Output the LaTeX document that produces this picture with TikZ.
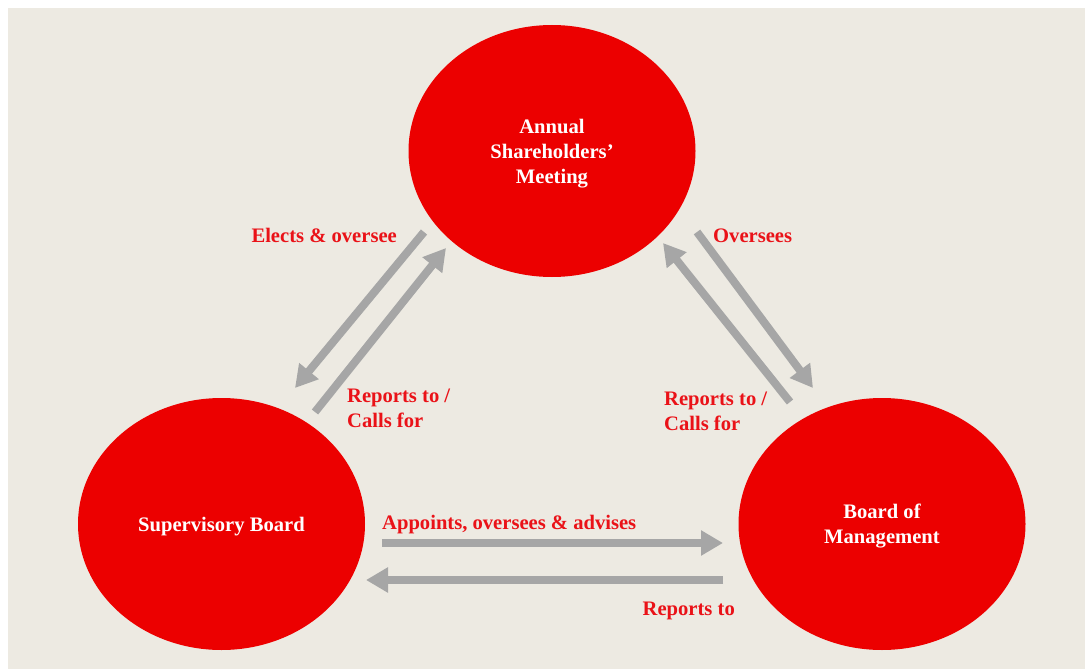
\documentclass[tikz,border=0pt]{standalone}
\usepackage{fontspec}
\setmainfont{Liberation Serif}
\usetikzlibrary{shapes.geometric,arrows.meta}
\definecolor{paper}{RGB}{237,234,226}
\definecolor{bodyred}{RGB}{236,0,0}
\definecolor{labelred}{RGB}{234,18,24}
\definecolor{flowgray}{RGB}{166,166,166}
\tikzset{
  body/.style={ellipse, fill=bodyred, draw=none, minimum width=287pt, minimum height=252pt,
    inner sep=0pt, text=white, align=center, text depth=0pt,
    font=\fontsize{20.6}{25}\selectfont\bfseries},
  lbl/.style={text=labelred, inner sep=0pt, align=left, font=\fontsize{20.6}{25}\selectfont\bfseries},
  flow/.style={draw=flowgray, line width=8pt, -{Triangle[length=22pt,width=24pt]}}
}
\begin{document}
\begin{tikzpicture}[x=1pt,y=-1pt]
  % page and paper
  \fill[white] (0,0) rectangle (1085,669);
  \fill[paper] (8,8) rectangle (1085,669);
  \useasboundingbox (0,0) rectangle (1085,669);

  % the three bodies
  \node[body] (asm) at (552,151) {Annual\\Shareholders’\\Meeting};
  \node[body] (sb) at (221.5,524) {Supervisory Board};
  \node[body] (bm) at (882,524) {Board of\\Management};

  % arrow end points
  \coordinate (eoS) at (424,232);  \coordinate (eoE) at (295,388);
  \coordinate (rlS) at (315,412);  \coordinate (rlE) at (446,248);
  \coordinate (ovS) at (697,232);  \coordinate (ovE) at (813,388);
  \coordinate (rrS) at (790,402);  \coordinate (rrE) at (663,243);
  \coordinate (apS) at (382,543);  \coordinate (apE) at (723,543);
  \coordinate (rbS) at (723,580);  \coordinate (rbE) at (366,580);

  \draw[flow] (eoS) -- (eoE);
  \draw[flow] (rlS) -- (rlE);
  \draw[flow] (ovS) -- (ovE);
  \draw[flow] (rrS) -- (rrE);
  \draw[flow] (apS) -- (apE);
  \draw[flow] (rbS) -- (rbE);

  % labels (for two-line labels the base is the second line)
  \node[lbl, anchor=base east] (l1) at (397,242) {Elects \& oversee};
  \node[lbl, anchor=base west] (l2) at (713,242) {Oversees};
  \node[lbl, anchor=base west] (l3) at (347,427) {Reports to /\\Calls for};
  \node[lbl, anchor=base west] (l4) at (664,430) {Reports to /\\Calls for};
  \node[lbl, anchor=base west] (l5) at (382,529) {Appoints, oversees \& advises};
  \node[lbl, anchor=base east] (l6) at (735,615) {Reports to};
\end{tikzpicture}
\end{document}
